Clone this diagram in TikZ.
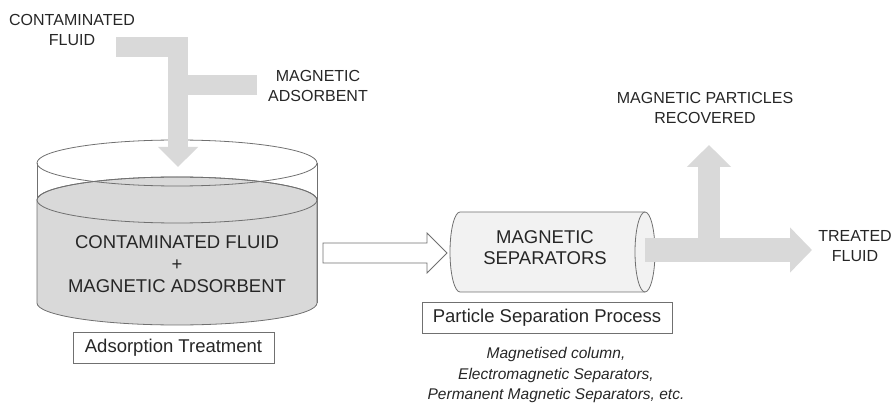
\documentclass[tikz,border=0pt]{standalone}
\usepackage{fontspec}
\setmainfont{Liberation Sans}
\usetikzlibrary{arrows.meta,calc}

\definecolor{flow}{HTML}{D9D9D9}
\definecolor{rim}{HTML}{707070}
\definecolor{ink}{HTML}{262626}
\definecolor{sepfill}{HTML}{F2F2F2}

\tikzset{
  outline/.style={draw=rim,line width=0.8pt},
  label/.style={text=ink,align=center,font=\fontsize{16}{20}\selectfont},
  tag/.style={outline,text=ink,font=\fontsize{18.5}{22}\selectfont,minimum height=31,inner sep=0pt},
  flowline/.style={draw=flow,line join=miter},
}

\begin{document}
\begin{tikzpicture}[x=1pt,y=-1pt]
\useasboundingbox (0,0) rectangle (895,406);
\def\tx{177}
\def\rx{140pt}
% tank
\draw[outline] (37,163) -- (37,303);
\draw[outline] (317,163) -- (317,303);
\filldraw[outline,fill=flow] (37,200) -- (37,303) arc[start angle=180,end angle=360,x radius=\rx,y radius=22pt]
  -- (317,200) arc[start angle=0,end angle=180,x radius=\rx,y radius=23pt] -- cycle;
\draw[outline] (\tx,200) ellipse[x radius=\rx,y radius=23pt];
\draw[outline] (\tx,163) ellipse[x radius=\rx,y radius=23pt];
\node[text=ink,align=center,font=\fontsize{18.5}{22}\selectfont] (mix) at (\tx,264)
  {CONTAMINATED FLUID\\+\\MAGNETIC ADSORBENT};
\node[tag,minimum width=201] (adsorb) at (173.5,347.5) {Adsorption Treatment};

% inputs
\coordinate (cf) at (116,47);
\coordinate (ma) at (257,85);
\coordinate (drop) at (178,147);
\draw[flowline,line width=20] (cf) -- (drop |- cf) -- (drop);
\fill[flow] ($(drop)+(-20,0)$) -- ($(drop)+(20,0)$) -- ($(drop)+(0,20)$) -- cycle;
\draw[flowline,line width=20] (ma) -- (drop |- ma);
\node[label] (cflabel) at (72,30) {CONTAMINATED\\FLUID};
\node[label] (malabel) at (318,86) {MAGNETIC\\ADSORBENT};

% transfer
\coordinate (h1) at (323,253);
\coordinate (h2) at (447,253);
\draw[outline,fill=white] ($(h1)+(0,-10)$) -- ($(h2)+(-20,-10)$) -- ($(h2)+(-20,-20)$) -- (h2)
  -- ($(h2)+(-20,20)$) -- ($(h2)+(-20,10)$) -- ($(h1)+(0,10)$) -- cycle;

% separator
\filldraw[outline,fill=sepfill] (645,212) -- (460,212)
  arc[start angle=90,end angle=270,x radius=10pt,y radius=40pt] -- (645,292);
\filldraw[outline,fill=sepfill] (645,252) ellipse[x radius=10pt,y radius=40pt];
\node[text=ink,align=center,font=\fontsize{18.5}{21}\selectfont] (sep) at (545,248)
  {MAGNETIC\\SEPARATORS};
\node[tag,minimum width=250] (process) at (547,317.5) {Particle Separation Process};
\node[text=ink,align=center,font=\fontsize{15.5}{20.5}\selectfont\itshape] (types) at (556,375)
  {Magnetised column,\\Electromagnetic Separators,\\Permanent Magnetic Separators, etc.};

% outputs
\coordinate (out) at (645,250);
\coordinate (split) at (709,250);
\draw[flowline,line width=24,-{Triangle[width=44,length=22]}] (out) -- (812,250) coordinate (end);
\draw[flowline,line width=22,-{Triangle[width=43,length=22]}] (split) -- (709,145) coordinate (up);
\node[label] (reclabel) at (705,108) {MAGNETIC PARTICLES\\RECOVERED};
\node[label] (tflabel) at (855,246) {TREATED\\FLUID};
\end{tikzpicture}
\end{document}
